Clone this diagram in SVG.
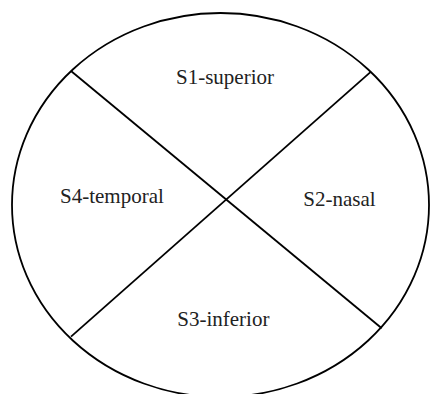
<svg xmlns="http://www.w3.org/2000/svg" width="430" height="394" viewBox="0 0 430 394">
<style>
.ln{stroke:#000;stroke-width:1.8;fill:none}
.lb{font-family:"Liberation Serif","Times New Roman",serif;font-size:21px;fill:#222}
</style>
<rect width="430" height="394" fill="#fff"/>
<g id="outline"><ellipse class="ln" cx="220.5" cy="205" rx="208.5" ry="192"/></g>
<g id="connectors">
<line class="ln" x1="71" y1="71" x2="381.7" y2="328.3"/>
<line class="ln" x1="371" y1="71.7" x2="71" y2="336.7"/>
</g>
<g id="s1"><text class="lb" x="176" y="83.5">S1-superior</text></g>
<g id="s2"><text class="lb" x="303.3" y="205.5">S2-nasal</text></g>
<g id="s3"><text class="lb" x="177.3" y="325.5">S3-inferior</text></g>
<g id="s4"><text class="lb" x="60" y="203">S4-temporal</text></g>
</svg>
